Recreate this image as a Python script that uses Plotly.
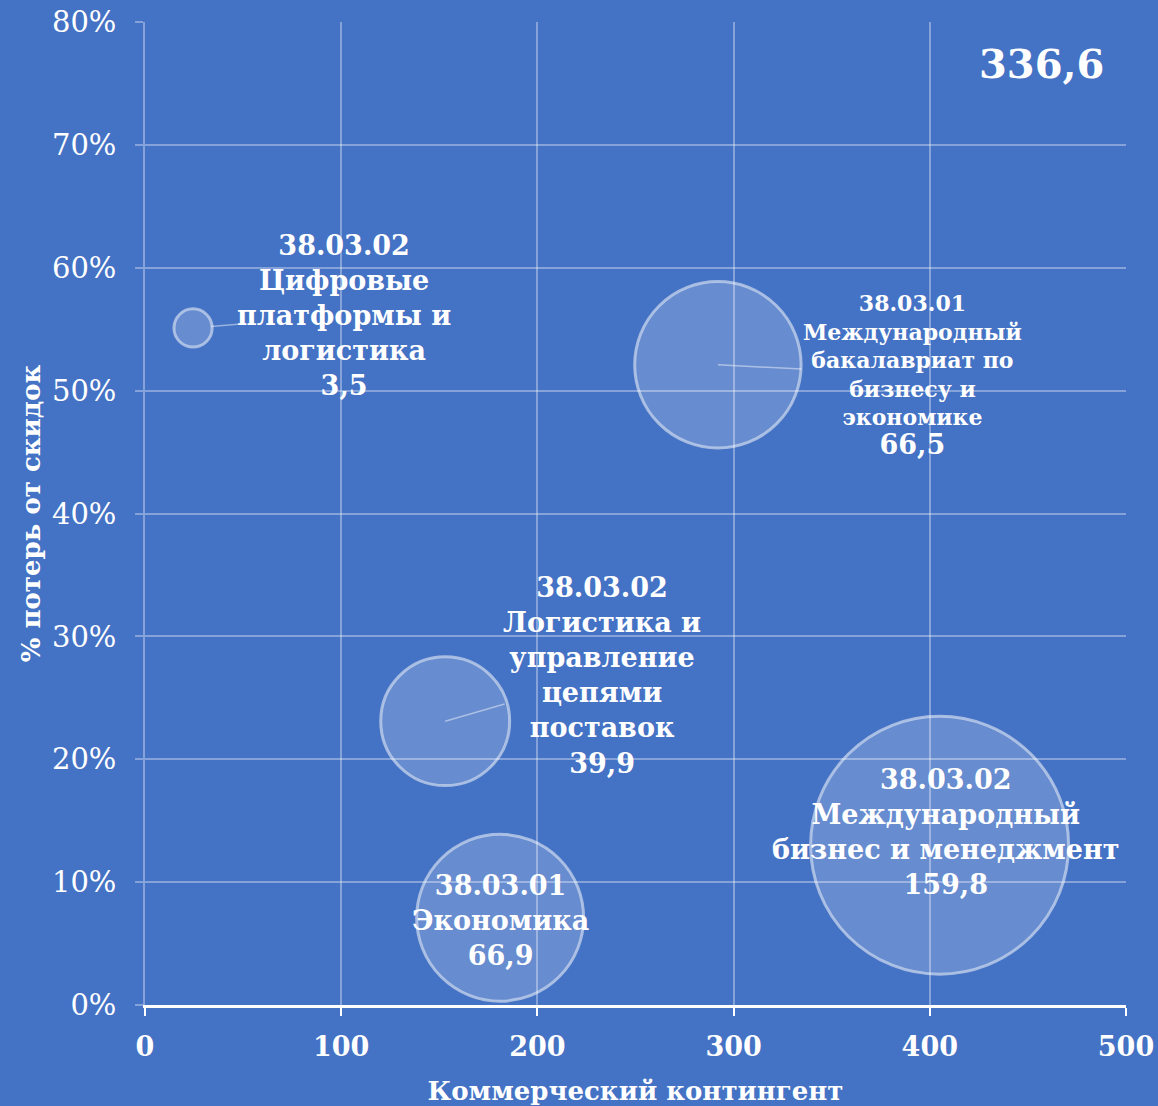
import plotly.graph_objects as go

# --- data ---
programs = [
    "38.03.02<br>Цифровые<br>платформы и<br>логистика",
    "38.03.01<br>Международный<br>бакалавриат по<br>бизнесу и<br>экономике",
    "38.03.02<br>Логистика и<br>управление<br>цепями<br>поставок",
    "38.03.01<br>Экономика",
    "38.03.02<br>Международный<br>бизнес и менеджмент",
]
contingent = [24.5, 292, 153, 181, 405]          # x: Коммерческий контингент
loss_share = [0.551, 0.521, 0.231, 0.071, 0.130]  # y: % потерь от скидок
bubble_value = [3.5, 66.5, 39.9, 66.9, 159.8]     # bubble size
value_labels = ["3,5", "66,5", "39,9", "66,9", "159,8"]
total_label = "336,6"
x_ticks = [0, 100, 200, 300, 400, 500]
y_ticks = [0, 0.1, 0.2, 0.3, 0.4, 0.5, 0.6, 0.7, 0.8]

# label placement (data coords)
label_pos = [(101.4, 0.561), (391.4, 0.513), (233, 0.268), (181, 0.069), (408, 0.141)]
label_size = [27, 22, 27, 27, 27]
leader = [True, True, True, False, False]

BG = "#4472C4"
GRID = "rgba(255,255,255,0.35)"
FONT = "DejaVu Serif"

fig = go.Figure()
fig.add_trace(go.Scatter(
    x=contingent, y=loss_share, mode="markers",
    marker=dict(
        size=bubble_value, sizemode="area",
        sizeref=2 * max(bubble_value) / (258 ** 2),
        color="rgba(255,255,255,0.27)",
        line=dict(color="rgba(255,255,255,0.75)", width=3),
    ),
    hoverinfo="skip", showlegend=False,
))

for i, txt in enumerate(programs):
    lx, ly = label_pos[i]
    if i == 1:
        full = f"{txt}<br><span style='font-size:27px'>{value_labels[i]}</span>"
    else:
        full = f"{txt}<br>{value_labels[i]}"
    fig.add_annotation(
        x=lx, y=ly, xref="x", yref="y", text=full, showarrow=False,
        font=dict(family=FONT, size=label_size[i], color="white", weight="bold"),
        align="center", xanchor="center", yanchor="middle",
    )

# leader lines (from label toward bubble)
for i in range(len(programs)):
    if not leader[i]:
        continue
    lx, ly = label_pos[i]
    fig.add_annotation(
        x=contingent[i], y=loss_share[i], xref="x", yref="y",
        ax=lx, ay=ly, axref="x", ayref="y",
        text="", showarrow=True, arrowhead=0, arrowwidth=1.5,
        arrowcolor="rgba(255,255,255,0.45)",
        standoff=18 if i == 0 else 0,
        startstandoff=[105, 110, 100][i],
    )

fig.add_annotation(
    x=0.914, y=0.958, xref="paper", yref="paper", text=total_label,
    showarrow=False, font=dict(family=FONT, size=40, color="white", weight="bold"),
    xanchor="center", yanchor="middle",
)

fig.update_layout(
    width=1158, height=1106,
    paper_bgcolor=BG, plot_bgcolor=BG,
    margin=dict(l=145, r=32, t=22, b=101),
    font=dict(family=FONT, color="white"),
    showlegend=False,
)
fig.update_xaxes(
    range=[0, 500], tickvals=x_ticks, ticktext=[str(v) for v in x_ticks],
    automargin=False,
    showgrid=True, gridcolor=GRID, gridwidth=1.5,
    zeroline=False,
    showline=True, linecolor="white", linewidth=2.5,
    ticks="outside", tickcolor="white", tickwidth=2, ticklen=8,
    ticklabelstandoff=8,
    tickfont=dict(family=FONT, size=27, color="white", weight="bold"),
    title=dict(text="Коммерческий контингент",
               font=dict(family=FONT, size=26, color="white", weight="bold"),
               standoff=24),
)
fig.update_yaxes(
    range=[0, 0.8], tickvals=y_ticks, tickformat=".0%",
    automargin=False,
    showgrid=True, gridcolor=GRID, gridwidth=1.5,
    zeroline=False,
    showline=True, linecolor=GRID, linewidth=1.5,
    ticks="outside", tickcolor=GRID, tickwidth=1.5, ticklen=8,
    ticklabelstandoff=13,
    tickfont=dict(family=FONT, size=29, color="white"),
    title=dict(text="% потерь от скидок",
               font=dict(family=FONT, size=26, color="white", weight="bold"),
               standoff=4),
)

fig.write_html(
    "out.html",
    config={"displayModeBar": False},
    post_script="document.body.style.margin='0';document.body.style.overflow='hidden';",
)
